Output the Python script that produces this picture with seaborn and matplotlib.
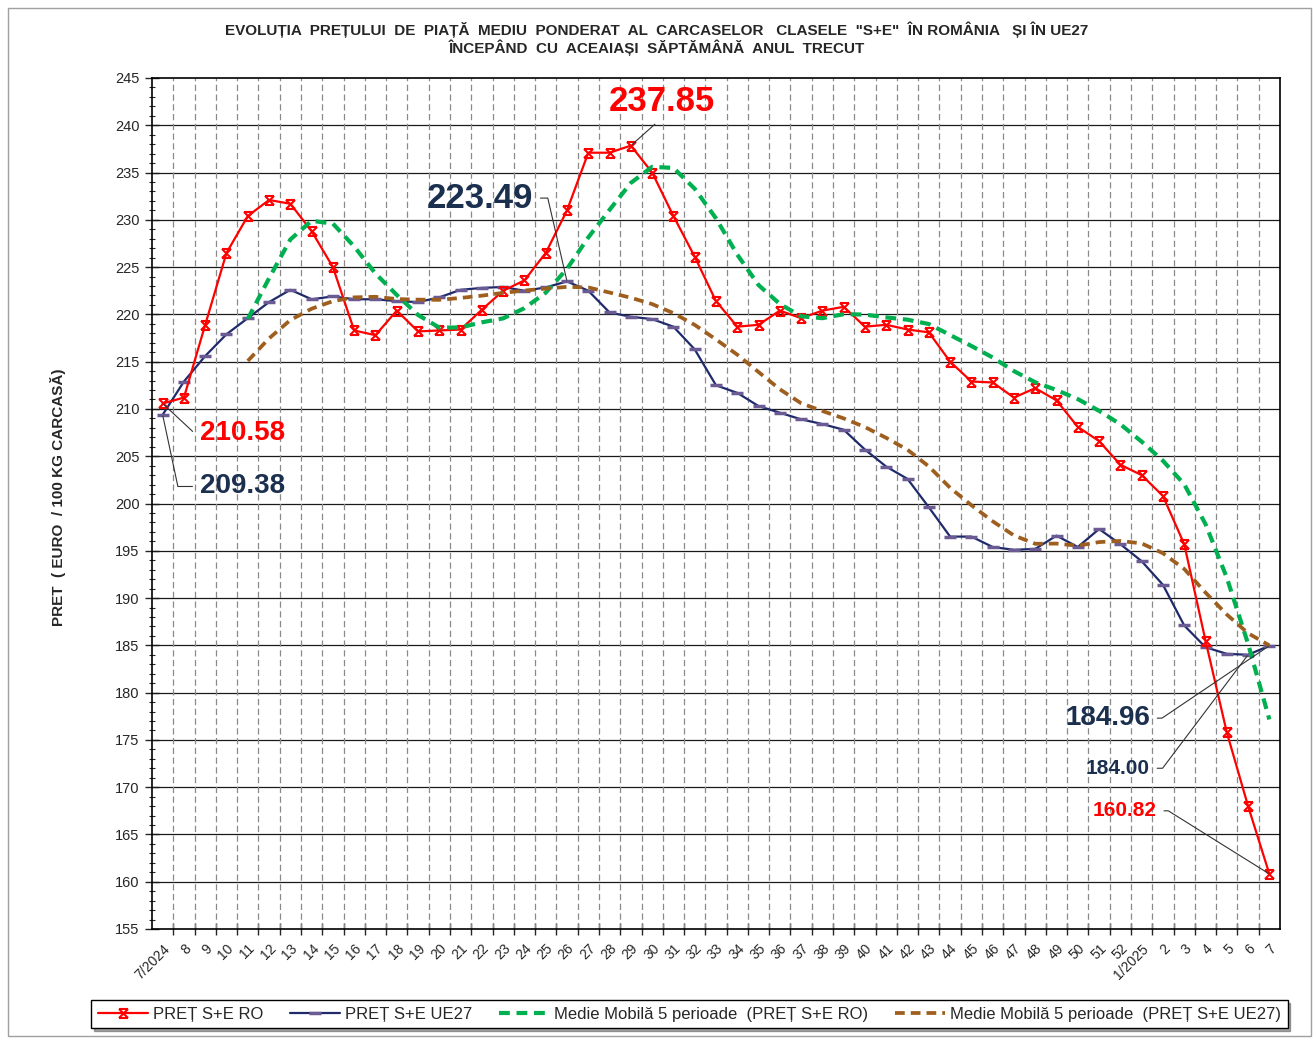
import numpy as np
import pandas as pd
import matplotlib
matplotlib.use("Agg")
import matplotlib.pyplot as plt
import seaborn as sns
from matplotlib.path import Path
from matplotlib.patches import Rectangle

# ---------------- data ----------------
weeks = ["7/2024"] + [str(w) for w in range(8, 53)] + ["1/2025", "2", "3", "4", "5", "6", "7"]

pret_ro = [210.58, 211.2, 218.9, 226.5, 230.4, 232.1, 231.7, 228.8, 225.0, 218.3,
           217.8, 220.4, 218.2, 218.3, 218.4, 220.5, 222.5, 223.6, 226.5, 231.0,
           237.1, 237.1, 237.85, 235.0, 230.4, 226.1, 221.4, 218.7, 218.9, 220.4,
           219.6, 220.4, 220.8, 218.7, 218.9, 218.4, 218.1, 215.0, 212.9, 212.8,
           211.2, 212.2, 210.9, 208.1, 206.6, 204.1, 203.0, 200.8, 195.7, 185.5,
           175.8, 168.0, 160.82]

pret_ue = [209.38, 212.9, 215.6, 217.9, 219.6, 221.3, 222.6, 221.6, 221.9, 221.6,
           221.6, 221.4, 221.3, 221.8, 222.6, 222.8, 222.9, 222.5, 222.85, 223.49,
           222.5, 220.2, 219.75, 219.5, 218.7, 216.3, 212.5, 211.7, 210.3, 209.6,
           208.9, 208.4, 207.8, 205.7, 203.9, 202.6, 199.6, 196.5, 196.5, 195.4,
           195.1, 195.2, 196.6, 195.4, 197.3, 195.7, 193.9, 191.4, 187.1, 184.8,
           184.1, 184.00, 184.96]

mm_ro = [np.nan, np.nan, np.nan, np.nan,
         219.52, 223.82, 227.92, 229.9, 229.6, 227.18, 224.32, 222.06, 219.94, 218.6,
         218.62, 219.16, 219.58, 220.66, 222.3, 224.82, 228.14, 231.06, 233.91, 235.61,
         235.49, 233.29, 230.15, 226.32, 223.1, 221.1, 219.8, 219.6, 220.02, 219.98,
         219.68, 219.44, 218.98, 217.82, 216.66, 215.44, 214.0, 212.82, 212.0, 211.04,
         209.8, 208.38, 206.54, 204.52, 202.04, 197.82, 192.16, 185.16, 177.16]

mm_ue = [np.nan, np.nan, np.nan, np.nan,
         215.08, 217.46, 219.4, 220.6, 221.4, 221.8, 221.86, 221.62, 221.56, 221.54,
         221.74, 221.98, 222.28, 222.52, 222.73, 222.91, 222.85, 222.31, 221.76, 221.09,
         220.13, 218.89, 217.35, 215.74, 213.9, 212.08, 210.6, 209.78, 209.0, 208.08,
         206.94, 205.68, 203.92, 201.66, 199.82, 198.12, 196.62, 195.74, 195.76, 195.54,
         195.92, 196.04, 195.78, 194.74, 193.08, 190.58, 188.26, 186.28, 184.99]

labels_series = ["PREȚ S+E RO", "PREȚ S+E UE27",
                 "Medie Mobilă 5 perioade  (PREȚ S+E RO)",
                 "Medie Mobilă 5 perioade  (PREȚ S+E UE27)"]

title_l1 = 'EVOLUȚIA  PREȚULUI  DE  PIAȚĂ  MEDIU  PONDERAT  AL  CARCASELOR   CLASELE  "S+E"  ÎN ROMÂNIA   ȘI ÎN UE27'
title_l2 = 'ÎNCEPÂND  CU  ACEAIAȘI  SĂPTĂMÂNĂ  ANUL  TRECUT'
ylabel = 'PRET  ( EURO  / 100 KG CARCASĂ)'

# ---------------- style ----------------
sns.set_style("white")
plt.rcParams['font.family'] = ['Liberation Sans', 'DejaVu Sans']

RED = "#ff0000"
NAVY = "#1f2a6b"
PURPLE = "#6b5b95"
GREEN = "#00b050"
BROWN = "#9e5e1e"
LBL_NAVY = "#1b2f4e"

W, H = 1314, 1039
fig = plt.figure(figsize=(W / 100, H / 100), dpi=100)
L, R, T, B = 152, 1280, 78, 929
ax = fig.add_axes([L / W, 1 - B / H, (R - L) / W, (B - T) / H])

df = pd.DataFrame({"x": np.arange(len(weeks)), "ro": pret_ro, "ue": pret_ue,
                   "mm_ro": mm_ro, "mm_ue": mm_ue})

star = Path([(-1, 1), (1, 1), (-1, -1), (1, -1), (-1, -1), (1, 1), (-1, 1), (1, -1)],
            [Path.MOVETO, Path.LINETO, Path.MOVETO, Path.LINETO,
             Path.MOVETO, Path.LINETO, Path.MOVETO, Path.LINETO])

sns.lineplot(data=df, x="x", y="ro", ax=ax, color=RED, lw=1.6, errorbar=None,
             marker=star, markersize=6.5, markeredgecolor=RED, markeredgewidth=1.5,
             markerfacecolor="none", label=labels_series[0], zorder=4)
sns.lineplot(data=df, x="x", y="ue", ax=ax, color=NAVY, lw=1.6, errorbar=None,
             marker="_", markersize=9, markeredgecolor=PURPLE, markeredgewidth=2.5,
             label=labels_series[1], zorder=3)
sns.lineplot(data=df.dropna(), x="x", y="mm_ro", ax=ax, color=GREEN, lw=3.0, errorbar=None,
             linestyle=(0, (2.6, 1.6)), label=labels_series[2], zorder=5)
sns.lineplot(data=df.dropna(), x="x", y="mm_ue", ax=ax, color=BROWN, lw=2.7, errorbar=None,
             linestyle=(0, (2.6, 1.6)), label=labels_series[3], zorder=5)

if ax.get_legend() is not None:
    ax.get_legend().remove()

n = len(weeks)
ax.set_xlim(-0.5, n - 0.5)
ax.set_ylim(155, 245)
ax.set_xlabel("")
ax.set_ylabel("")

# y ticks and grid
ax.set_yticks(np.arange(155, 246, 5))
ax.set_yticks(np.arange(155, 246, 1), minor=True)
ax.tick_params(axis="y", which="major", direction="inout", length=10, width=1,
               labelsize=10.5, pad=4, left=True)
ax.tick_params(axis="y", which="minor", direction="inout", length=5, width=0.8, left=True)
for v in np.arange(160, 245, 5):
    ax.axhline(v, color="#1a1a1a", lw=0.9, zorder=1)

# x ticks: labels at centres, marks at boundaries
ax.set_xticks(np.arange(n))
ax.set_xticklabels(weeks, rotation=45, ha="right", rotation_mode="anchor")
ax.set_xticks(np.arange(0.5, n - 0.5, 1), minor=True)
ax.tick_params(axis="x", which="major", length=0, labelsize=10, pad=9, bottom=True)
ax.tick_params(axis="x", which="minor", direction="inout", length=8, width=1, bottom=True)
for xv in np.arange(0.5, n - 0.5, 1):
    ax.axvline(xv, color="#8a8a8a", lw=0.9, linestyle=(0, (5, 2.8)), zorder=1)

for s in ax.spines.values():
    s.set_color("black")
    s.set_linewidth(1.2)

# ---------------- annotations ----------------
def lead(txt, i, series, xt, yt, color, size, ha, angB=None, relpos=(0, 0.5)):
    if angB is None:
        cs = "arc3,rad=0"
    else:
        cs = f"angle,angleA=0,angleB={angB},rad=0"
    ax.annotate(txt, xy=(i, series[i]), xytext=(xt, yt), textcoords="data",
                fontsize=size, fontweight="bold", color=color, ha=ha, va="center",
                zorder=8,
                arrowprops=dict(arrowstyle="-", color="#333333", lw=0.8,
                                shrinkA=3, shrinkB=1, relpos=relpos,
                                connectionstyle=cs))

lead("210.58", 0, pret_ro, 1.75, 207.5, RED, 20, "left", -43, (0, 0.5))
lead("209.38", 0, pret_ue, 1.75, 201.8, LBL_NAVY, 20, "left", -78, (0, 0.5))
lead("237.85", 22, pret_ro, 23.45, 242.5, RED, 25, "center", None, (0.5, 0))
lead("223.49", 19, pret_ue, 17.4, 232.3, LBL_NAVY, 25, "right", 103, (1, 0.5))
lead("184.96", 52, pret_ue, 46.38, 177.3, LBL_NAVY, 20, "right", -146, (1, 0.5))
lead("184.00", 51, pret_ue, 46.38, 172.0, LBL_NAVY, 15, "right", -127, (1, 0.5))
lead("160.82", 52, pret_ro, 46.7, 167.5, RED, 15, "right", 148, (1, 0.5))

# ---------------- texts ----------------
fig.text(656.5 / W, 1 - 30 / H, title_l1, ha="center", va="center",
         fontsize=11, fontweight="bold")
fig.text(656.5 / W, 1 - 48 / H, title_l2, ha="center", va="center",
         fontsize=11, fontweight="bold")
fig.text(58 / W, 1 - 497 / H, ylabel, rotation=90, ha="center", va="center",
         fontsize=11, fontweight="bold")

# legend
handles, lbls = ax.get_legend_handles_labels()
leg = fig.legend(handles, lbls, loc="center", bbox_to_anchor=(689.5 / W, 1 - 1014 / H),
                 ncol=4, fontsize=12, frameon=True, fancybox=False, shadow=True,
                 edgecolor="black", handlelength=3.0, handletextpad=0.3,
                 columnspacing=1.6, borderpad=0.4, numpoints=1)
leg.get_frame().set_linewidth(1.0)

# outer frame
fig.patches.append(Rectangle((8 / W, 3 / H), 1303 / W, 1028 / H, transform=fig.transFigure,
                             fill=False, edgecolor="#a0a0a0", lw=1.0))

fig.savefig("out.png", dpi=100)
